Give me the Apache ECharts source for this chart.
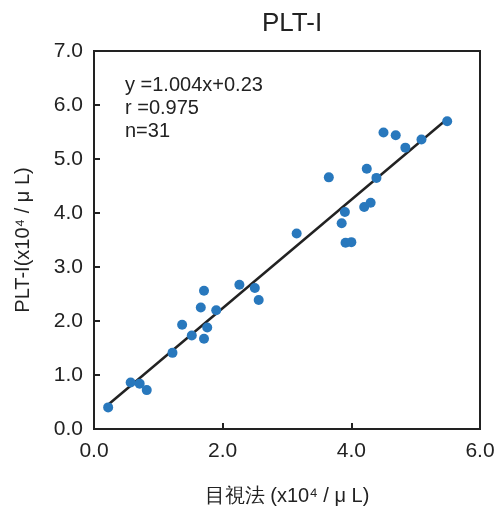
<!DOCTYPE html>
<html>
<head>
<meta charset="utf-8">
<script src="https://cdn.jsdelivr.net/npm/echarts@6/dist/echarts.min.js"></script>
<style>
  html, body { margin: 0; padding: 0; background: #fff; }
  #chart { width: 500px; height: 506px; }
</style>
</head>
<body>
<div id="chart"></div>
<script>
// 目視法 (x) vs PLT-I (y)
const visualX = [0.22, 0.57, 0.71, 0.82, 1.22, 1.37, 1.52, 1.71, 1.76, 1.66, 1.71, 1.90, 2.26, 2.50, 2.56,
  3.15, 3.85, 3.91, 4.00, 3.90, 4.20, 4.30, 3.65, 4.24, 4.39, 4.50, 4.69, 4.84, 5.09, 5.49];
const pltY = [0.40, 0.86, 0.84, 0.72, 1.41, 1.93, 1.73, 1.67, 1.88, 2.25, 2.56, 2.20, 2.67, 2.61, 2.39,
  3.62, 3.81, 3.45, 3.46, 4.02, 4.11, 4.19, 4.66, 4.82, 4.65, 5.49, 5.44, 5.21, 5.36, 5.70];
const slope = 1.004;
const intercept = 0.23;
const fitRange = [0.2, 5.48];
const xTicks = ["0.0", "2.0", "4.0", "6.0"];
const yTicks = ["0.0", "1.0", "2.0", "3.0", "4.0", "5.0", "6.0", "7.0"];
const statLines = ["y =1.004x+0.23", "r =0.975", "n=31"];

const chart = echarts.init(document.getElementById("chart"));
const font = "'Liberation Sans', Arial, sans-serif";
const ink = "#222";

const points = visualX.map((x, i) => [x, pltY[i]]);
const fitLine = fitRange.map(x => [x, slope * x + intercept]);

const option = {
  animation: false,
  title: {
    text: "PLT-I",
    left: 287,
    textAlign: "center",
    top: 6,
    textStyle: { fontFamily: font, fontSize: 26, fontWeight: "normal", color: ink },
  },
  grid: {
    left: 94,
    right: 20,
    top: 51,
    bottom: 77,
    outerBoundsMode: "none",
    show: true,
    borderColor: ink,
    borderWidth: 2,
  },
  xAxis: {
    type: "value",
    min: 0,
    max: 6,
    interval: 2,
    name: "目視法 (x10⁴ / μ L)",
    nameLocation: "middle",
    nameGap: 57,
    nameTextStyle: { fontFamily: font, fontSize: 20, color: ink },
    axisLine: { show: true, lineStyle: { color: ink, width: 2 } },
    axisTick: { show: true, inside: true, length: 6, lineStyle: { color: ink, width: 2 } },
    splitLine: { show: false },
    axisLabel: {
      margin: 12,
      fontFamily: font,
      fontSize: 21,
      color: ink,
      formatter: v => xTicks[Math.round(v / 2)],
    },
  },
  yAxis: {
    type: "value",
    min: 0,
    max: 7,
    interval: 1,
    name: "PLT-I(x10⁴ / μ L)",
    nameLocation: "middle",
    nameGap: 61,
    nameTextStyle: { fontFamily: font, fontSize: 20, color: ink },
    axisLine: { show: true, lineStyle: { color: ink, width: 2 } },
    axisTick: { show: true, inside: true, length: 6, lineStyle: { color: ink, width: 2 } },
    splitLine: { show: false },
    axisLabel: {
      margin: 11,
      fontFamily: font,
      fontSize: 21,
      color: ink,
      formatter: v => yTicks[Math.round(v)],
    },
  },
  graphic: [
    {
      type: "text",
      left: 125,
      top: 74,
      style: {
        text: statLines.join("\n"),
        fontFamily: font,
        fontSize: 20,
        lineHeight: 23,
        fill: ink,
      },
    },
  ],
  series: [
    {
      type: "line",
      data: fitLine,
      symbol: "none",
      lineStyle: { color: ink, width: 2.5 },
      z: 1,
    },
    {
      type: "scatter",
      data: points,
      symbolSize: 10,
      itemStyle: { color: "#2878bd", opacity: 1 },
      z: 3,
    },
  ],
};
chart.setOption(option);
</script>
</body>
</html>
